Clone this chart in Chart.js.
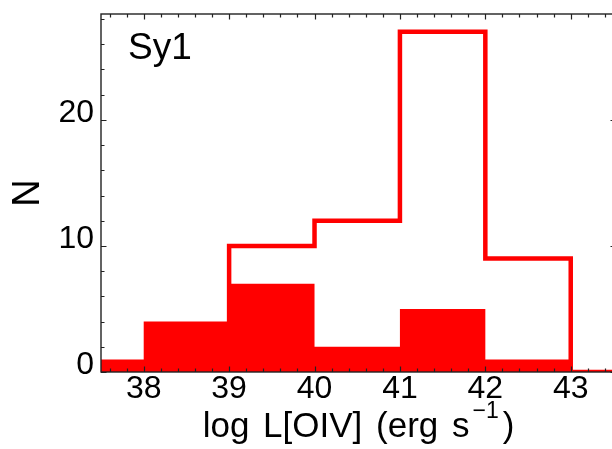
<!DOCTYPE html>
<html>
<head>
<meta charset="utf-8">
<title>Sy1 - log L[OIV]</title>
<script src="https://cdn.jsdelivr.net/npm/chart.js@4/dist/chart.umd.min.js"></script>
<style>
  html, body { margin: 0; padding: 0; background: #fff; overflow: hidden; }
  #wrap { width: 612px; height: 449px; overflow: hidden; }
</style>
</head>
<body>
<div id="wrap"><canvas id="hist" width="640" height="449"></canvas></div>
<script>
// bins of 1 dex, left edges
const binStarts = [37, 38, 39, 40, 41, 42, 43];
// all Sy1 (open outline, starts at 39)
const sy1All = [null, null, 10, 12, 27, 9, 0];
// sub-sample (filled)
const sy1Sub = [1, 4, 7, 2, 5, 1, 0];

const xTicks = [38, 39, 40, 41, 42, 43];
const yTicks = [0, 10, 20];

const X_MIN = 37.5, X_MAX = 43.53;
const Y_MIN = 0, Y_MAX = 28.4;
const X_MINOR = 0.2, Y_MINOR = 2;

const RED = '#ff0000';
const INK = '#000';
const AXIS = '#222';
const FONT = "'Liberation Sans', Arial, Helvetica, sans-serif";

// step points for stepped:'before' -> one point per bin start plus closing edge
function stepPoints(counts, leadZero) {
  const pts = [];
  counts.forEach((c, i) => {
    if (c === null) return;
    if (!pts.length && leadZero) pts.push({ x: binStarts[i], y: 0 });
    pts.push({ x: binStarts[i], y: c });
  });
  const last = pts[pts.length - 1];
  pts.push({ x: last.x + 1, y: last.y });
  return pts;
}

// closed frame with inward major/minor ticks on all four sides
const frameTicks = {
  id: 'frameTicks',
  afterDatasetsDraw(chart) {
    const { ctx, chartArea: a, scales: { x, y } } = chart;
    const MAJOR = 5.5, MINOR = 3.5;
    ctx.save();
    ctx.strokeStyle = AXIS;
    ctx.lineWidth = 1.2;
    ctx.beginPath();
    for (let k = Math.ceil(X_MIN / X_MINOR); k * X_MINOR <= X_MAX + 1e-9; k++) {
      const v = k * X_MINOR;
      const px = Math.round(x.getPixelForValue(v)) + 0.5;
      const len = Math.abs(v - Math.round(v)) < 1e-6 ? MAJOR : MINOR;
      ctx.moveTo(px, a.bottom); ctx.lineTo(px, a.bottom - len);
      ctx.moveTo(px, a.top); ctx.lineTo(px, a.top + len);
    }
    for (let k = 0; k * Y_MINOR <= Y_MAX + 1e-9; k++) {
      const v = k * Y_MINOR;
      const py = Math.round(y.getPixelForValue(v)) + 0.5;
      const len = v % 10 === 0 ? MAJOR : MINOR;
      ctx.moveTo(a.left, py); ctx.lineTo(a.left + len, py);
      ctx.moveTo(a.right, py); ctx.lineTo(a.right - len, py);
    }
    ctx.stroke();
    ctx.lineWidth = 1.4;
    ctx.strokeRect(a.left, a.top, a.right - a.left, a.bottom - a.top);
    ctx.restore();
  }
};

// panel tag and x-axis title with the s^-1 superscript
const labels = {
  id: 'labels',
  afterDraw(chart) {
    const { ctx, chartArea: a } = chart;
    ctx.save();
    ctx.fillStyle = INK;
    ctx.textBaseline = 'alphabetic';
    ctx.textAlign = 'left';
    ctx.font = `37px ${FONT}`;
    ctx.fillText('Sy1', a.left + 27, a.top + 45);

    const main = 'log L[OIV] (erg s';
    const sup = '\u22121';
    const close = ')';
    const mainFont = `35px ${FONT}`, supFont = `23px ${FONT}`;
    ctx.font = mainFont;
    ctx.wordSpacing = '4px';
    const wMain = ctx.measureText(main).width;
    const wClose = ctx.measureText(close).width;
    ctx.font = supFont;
    const wSup = ctx.measureText(sup).width;
    const total = wMain + 3 + wSup + 4 + wClose;
    const cx = (a.left + a.right) / 2;
    let xx = cx - total / 2;
    const base = 437;
    ctx.font = mainFont;
    ctx.fillText(main, xx, base);
    xx += wMain + 3;
    ctx.font = supFont;
    ctx.fillText(sup, xx, base - 19);
    xx += wSup + 4;
    ctx.font = mainFont;
    ctx.fillText(close, xx, base);
    ctx.restore();
  }
};

new Chart(document.getElementById('hist'), {
  type: 'line',
  data: {
    datasets: [
      {
        data: stepPoints(sy1All, true),
        stepped: 'before',
        borderColor: RED,
        borderWidth: 4.5,
        borderJoinStyle: 'miter',
        borderCapStyle: 'butt',
        pointRadius: 0,
        fill: false
      },
      {
        data: stepPoints(sy1Sub, false),
        stepped: 'before',
        borderWidth: 0,
        borderColor: RED,
        backgroundColor: RED,
        pointRadius: 0,
        fill: 'origin'
      }
    ]
  },
  options: {
    responsive: false,
    animation: false,
    events: [],
    layout: { padding: { top: 14, right: 24, left: 0, bottom: 0 } },
    plugins: { legend: { display: false }, tooltip: { enabled: false } },
    scales: {
      x: {
        type: 'linear',
        min: X_MIN,
        max: X_MAX,
        grid: { display: false, drawTicks: false },
        border: { display: false },
        afterBuildTicks: s => { s.ticks = xTicks.map(v => ({ value: v })); },
        afterFit: s => {
          s.height = 77;
          s.paddingLeft = 0; s.paddingRight = 0;
        },
        ticks: {
          font: { family: FONT, size: 32 },
          color: INK,
          padding: -2,
          maxRotation: 0,
          autoSkip: false
        }
      },
      y: {
        type: 'linear',
        min: Y_MIN,
        max: Y_MAX,
        grid: { display: false, drawTicks: false },
        border: { display: false },
        afterBuildTicks: s => { s.ticks = yTicks.map(v => ({ value: v })); },
        afterFit: s => {
          s.width = 101;
          s.paddingTop = 0; s.paddingBottom = 0;
        },
        ticks: {
          font: { family: FONT, size: 32 },
          color: INK,
          padding: 7,
          labelOffset: -7,
          autoSkip: false
        },
        title: {
          display: true,
          text: 'N',
          color: INK,
          font: { family: FONT, size: 38 },
          padding: { top: 6, bottom: 0 }
        }
      }
    }
  },
  plugins: [frameTicks, labels]
});
</script>
</body>
</html>
